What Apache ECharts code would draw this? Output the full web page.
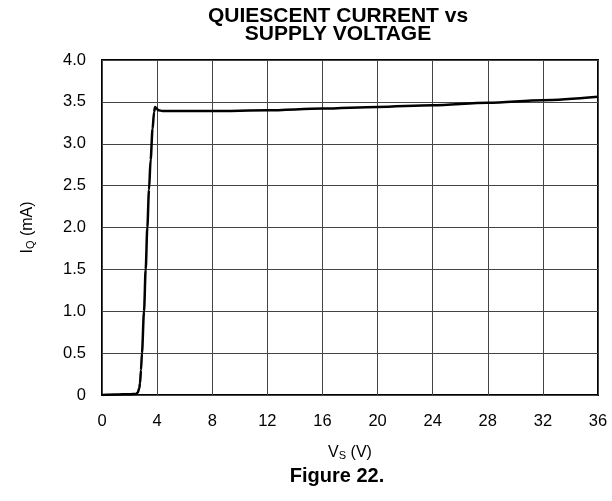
<!DOCTYPE html>
<html><head><meta charset="utf-8">
<script src="https://cdn.jsdelivr.net/npm/echarts@6/dist/echarts.min.js"></script>
<style>html,body{margin:0;padding:0;background:#fff}#c{width:612px;height:501px}</style>
</head><body><div id="c"></div>
<script>
const supplyVoltage = [0, 1, 2, 2.5, 2.6, 2.7, 2.76, 2.83, 2.9, 3.05, 3.17, 3.29, 3.41, 3.53, 3.67, 3.78, 3.85, 3.95, 4.1, 4.4, 6, 8, 12, 16, 20, 24, 28, 32, 36];
const quiescentCurrent = [0, 0.005, 0.01, 0.015, 0.03, 0.08, 0.14, 0.3, 0.5, 1.0, 1.5, 2.0, 2.45, 2.81, 3.18, 3.38, 3.44, 3.42, 3.40, 3.39, 3.39, 3.39, 3.40, 3.42, 3.44, 3.46, 3.49, 3.52, 3.56];
const xTickLabels = ['0', '4', '8', '12', '16', '20', '24', '28', '32', '36'];
const yTickLabels = ['0', '0.5', '1.0', '1.5', '2.0', '2.5', '3.0', '3.5', '4.0'];

const FONT = '"Liberation Sans", Arial, Helvetica, sans-serif';
const chart = echarts.init(document.getElementById('c'), null, {renderer: 'canvas'});
chart.setOption({
  animation: false,
  backgroundColor: '#fff',
  graphic: [{
    type: 'text', x: 338, y: 7,
    style: {text: 'QUIESCENT CURRENT vs\nSUPPLY VOLTAGE', font: 'bold 21px ' + FONT, lineHeight: 18, fill: '#000', align: 'center', verticalAlign: 'top'}
  }, {
    type: 'text', x: 337, y: 466,
    style: {text: 'Figure 22.', font: 'bold 20px ' + FONT, fill: '#000', align: 'center', verticalAlign: 'top'}
  }],
  grid: {left: 102, right: 14, top: 60, bottom: 106, show: true, borderColor: '#000', borderWidth: 2, backgroundColor: 'transparent'},
  xAxis: {
    type: 'value', min: 0, max: 36, interval: 4,
    name: '{a|V}{s|S}{a| (V)}', nameLocation: 'middle', nameGap: 49,
    nameTextStyle: {rich: {a: {fontFamily: FONT, fontSize: 16, color: '#000'}, s: {fontFamily: FONT, fontSize: 11, color: '#000', verticalAlign: 'bottom', padding: [6, 0, 0, 0]}}},
    axisLine: {show: false}, axisTick: {show: false},
    axisLabel: {margin: 18, fontFamily: FONT, fontSize: 16.5, color: '#000', formatter: (v) => xTickLabels[Math.round(v / 4)]},
    splitLine: {show: true, lineStyle: {color: '#444', width: 1}}
  },
  yAxis: {
    type: 'value', min: 0, max: 4, interval: 0.5,
    name: '{a|I}{s|Q}{a| (mA)}', nameLocation: 'middle', nameGap: 66,
    nameTextStyle: {rich: {a: {fontFamily: FONT, fontSize: 16, color: '#000'}, s: {fontFamily: FONT, fontSize: 11, color: '#000', verticalAlign: 'bottom', padding: [6, 0, 0, 0]}}},
    axisLine: {show: false}, axisTick: {show: false},
    axisLabel: {margin: 16, fontFamily: FONT, fontSize: 16.5, color: '#000', formatter: (v) => yTickLabels[Math.round(v * 2)]},
    splitLine: {show: true, lineStyle: {color: '#444', width: 1}}
  },
  series: [{
    type: 'line',
    data: supplyVoltage.map((v, i) => [v, quiescentCurrent[i]]),
    showSymbol: false, smooth: 0.3, smoothMonotone: 'x',
    lineStyle: {color: '#000', width: 2.5},
    z: 5
  }]
});
</script></body></html>
